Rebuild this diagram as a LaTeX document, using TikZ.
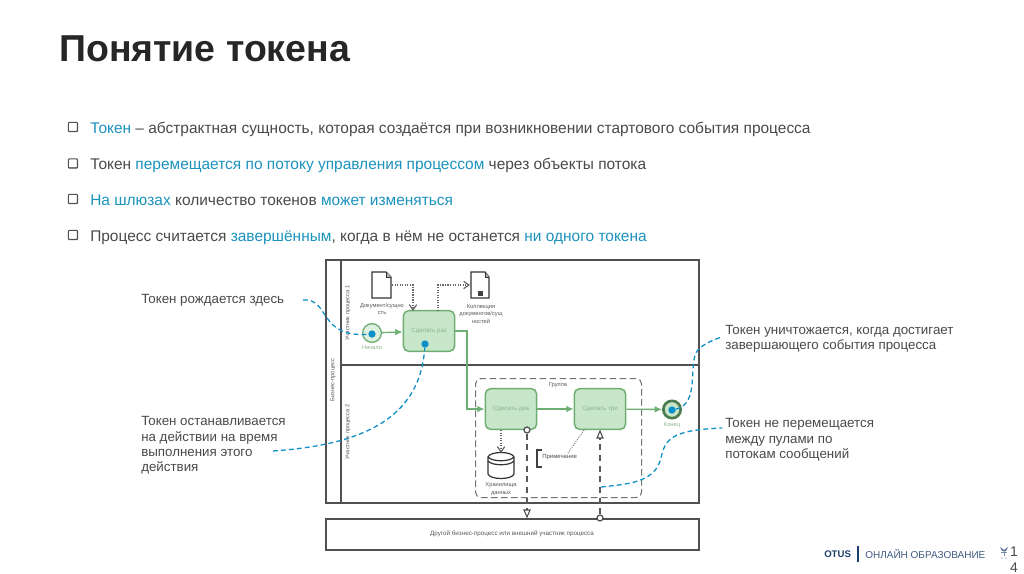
\documentclass[tikz,border=0pt]{standalone}
\usepackage{fontspec}
\setmainfont{Liberation Sans}
\usetikzlibrary{arrows.meta,calc}
\definecolor{txt}{HTML}{4A4A4A}
\definecolor{blu}{HTML}{1C93BE}
\definecolor{tok}{HTML}{0A8FC8}
\definecolor{grn}{HTML}{6FAE72}
\definecolor{grnf}{HTML}{C8E6C9}
\definecolor{grnt}{HTML}{8DB58D}
\definecolor{pool}{HTML}{505050}
\definecolor{navy}{HTML}{1F3F6B}
\newcommand{\bl}[1]{\textcolor{blu}{#1}}
\tikzset{
 x=0.75pt,y=-0.75pt,
 lbl/.style={inner sep=0pt,anchor=west,text=txt,font=\fontsize{10pt}{11.5pt}\selectfont,align=left},
 bullet/.style={inner sep=0pt,anchor=base west,text=txt,font=\fontsize{11.6pt}{13pt}\selectfont},
 chk/.style={draw=pool,line width=0.8pt,minimum size=7pt,inner sep=0pt,rounded corners=0.7pt,path picture={\draw[pool,line width=1.1pt] (path picture bounding box.south west)--(path picture bounding box.south east)--(path picture bounding box.north east);}},
 taskbox/.style={draw=grn,fill=grnf,line width=1.1pt,rounded corners=4pt,minimum width=38.5pt,minimum height=30.5pt,inner sep=0pt,text=grnt,font=\fontsize{4.6pt}{6pt}\selectfont},
 tiny/.style={inner sep=0pt,text=black!65,font=\fontsize{4.3pt}{5.6pt}\selectfont,align=center},
 poolbox/.style={draw=pool,line width=1.15pt,inner sep=0pt},
 flow/.style={draw=grn,line width=1pt,-{Latex[length=5.5pt,width=5pt]}},
 assoc/.style={draw=black!60,densely dotted,line width=0.9pt,-{Straight Barb[length=4pt,width=5.5pt]}},
 msg/.style={draw=black!65,dash pattern=on 4.5pt off 3.5pt,line width=0.9pt},
 tokline/.style={draw=tok,line width=0.95pt,dash pattern=on 3.6pt off 2.4pt},
 tokdot/.style={fill=tok,circle,inner sep=0pt,minimum size=5.5pt},
 doc/.style={draw=black!80,fill=white,line width=0.9pt}
}
\begin{document}
\begin{tikzpicture}
\useasboundingbox (0,0) rectangle (1024,574);
\fill[white] (0,0) rectangle (1024,574);
% title
\node[inner sep=0pt,anchor=base west,text=black!85,font=\bfseries\fontsize{28.1pt}{30pt}\selectfont] (title) at (59,62) {Понятие токена};
% bullets
\node[chk] (c1) at (73,127) {};
\node[chk] (c2) at (73,163.5) {};
\node[chk] (c3) at (73,199) {};
\node[chk] (c4) at (73,235) {};
\node[bullet] (b1) at (90,133.5) {\bl{Токен} – абстрактная сущность, которая создаётся при возникновении стартового события процесса};
\node[bullet] (b2) at (90,169.5) {Токен \bl{перемещается по потоку управления процессом} через объекты потока};
\node[bullet] (b3) at (90,205.5) {\bl{На шлюзах} количество токенов \bl{может изменяться}};
\node[bullet] (b4) at (90,241.5) {Процесс считается \bl{завершённым}, когда в нём не останется \bl{ни одного токена}};
% pools
\node[poolbox,anchor=north west,minimum width=279.75pt,minimum height=182.25pt] (poolA) at (325,259) {};
\node[poolbox,anchor=north west,minimum width=279.75pt,minimum height=23.25pt] (poolB) at (325,518) {};
\draw[pool,line width=1.15pt] (341,259) coordinate (lt) -- (341,502) coordinate (lb);
\draw[pool,line width=1.15pt] (341,365) coordinate (ll) -- (698,365) coordinate (lr);
\node[tiny,rotate=90] (pn) at (333,380) {Бизнес-процесс};
\node[tiny,rotate=90] (l1) at (348,313) {Участник процесса 1};
\node[tiny,rotate=90] (l2) at (348,432) {Участник процесса 2};
\node[tiny,font=\fontsize{4.7pt}{6pt}\selectfont] (pbt) at (512,533.5) {Другой бизнес-процесс или внешний участник процесса};
% group
\node[draw=black!55,dash pattern=on 5pt off 2.5pt,line width=0.8pt,rounded corners=4pt,anchor=north west,minimum width=124.5pt,minimum height=89.25pt,inner sep=0pt] (grp) at (475,378) {};
\node[tiny] (grpt) at (558,385) {Группа};
% documents
\draw[doc] (372,272) coordinate (d1a) -- (386,272) -- (391,277) -- (391,298) -- (372,298) -- cycle;
\draw[black!80,line width=0.6pt,fill=black!30] (386,272) -- (386,277) -- (391,277);
\draw[doc] (471,272) -- (485,272) -- (489,277) -- (489,298) -- (471,298) -- cycle;
\draw[black!80,line width=0.6pt,fill=black!30] (485,272) -- (485,277) -- (489,277);
\fill[black!75] (478,291) rectangle (483,296);
\node[tiny] (d1t) at (382,309) {Документ/сущно\\сть};
\node[tiny] (d2t) at (481,314) {Коллекция\\документов/сущ\\ностей};
% tasks
\node[taskbox] (t1) at (429,331) {Сделать раз};
\node[taskbox] (t2) at (511,409) {Сделать два};
\node[taskbox] (t3) at (600,409) {Сделать три};
% events
\node[circle,draw=grn,fill=grnf!60,line width=1pt,minimum size=14pt,inner sep=0pt] (st) at (372,333) {};
\node[tiny,text=grnt] (stt) at (372,348) {Начало};
\node[circle,draw=grn!70!black,fill=grnf,line width=2pt,minimum size=13pt,inner sep=0pt] (en) at (672,409.5) {};
\node[tiny,text=grnt] (ent) at (672,425) {Конец};
% database
\draw[black!80,fill=white,line width=0.9pt] (488,457) -- (488,474) .. controls (490,480) and (512,480) .. (514,474) -- (514,457) .. controls (512,451) and (490,451) .. (488,457) -- cycle;
\draw[black!80,line width=0.9pt] (488,457) .. controls (492,462) and (510,462) .. (514,457);
\draw[black!80,line width=0.9pt] (488,461) .. controls (492,466) and (510,466) .. (514,461);
\coordinate (db) at (501,453);
\node[tiny] (dbt) at (501,489) {Хранилища\\данных};
% annotation
\node[inner sep=0pt,anchor=west,text=black!70,font=\fontsize{4.5pt}{6pt}\selectfont] (nt) at (542,457) {Примечание};
\draw[black!75,line width=0.9pt] (542,450) -- (537,450) -- (537,467) -- (542,467);
% flows
\draw[flow] (st) -- (t1);
\draw[flow] (t1.east) -- (467,331) -- (467,409) -- (t2.west);
\draw[flow] (t2) -- (t3);
\draw[flow] (t3) -- (en);
% associations
\draw[assoc] (392,285) -- (413,285) -- (413,311);
\draw[assoc] (438,311) -- (438,285) -- (470,285);
\draw[assoc] (501,430) -- (db);
\draw[black!55,densely dotted,line width=0.7pt] (584,430) -- (568,453);
% messages
\node[circle,draw=black!70,fill=white,line width=0.9pt,minimum size=4.5pt,inner sep=0pt] (m1) at (527,430) {};
\node[circle,draw=black!70,fill=white,line width=0.9pt,minimum size=4.5pt,inner sep=0pt] (m2) at (600,518) {};
\draw[msg] (m1) -- (527,510);
\draw[draw=black!70,fill=white,line width=0.8pt] (527,517) -- (524,510) -- (530,510) -- cycle;
\draw[msg] (m2) -- (600,438);
\draw[draw=black!70,fill=white,line width=0.8pt] (600,431) -- (597,438) -- (603,438) -- cycle;
% tokens
\coordinate (a1) at (303,300);
\coordinate (a2) at (273,451);
\coordinate (a3) at (722,337);
\coordinate (a4) at (722,428);
\coordinate (a5) at (601,487);
\node[tokdot] (tk1) at (372,334) {};
\node[tokdot] (tk2) at (425,344) {};
\node[tokdot] (tk3) at (672,410) {};
\draw[tokline] (a1) .. controls (330,298) and (318,338) .. (tk1);
\draw[tokline] (a2) .. controls (360,445) and (420,420) .. (tk2);
\draw[tokline] (tk3) .. controls (700,404) and (688,365) .. (697,351) .. controls (702,345) and (712,340) .. (a3);
\draw[tokline] (a5) .. controls (630,484) and (655,482) .. (661,458) .. controls (665,440) and (670,430) .. (a4);
% callouts
\node[lbl] (c1t) at (141,300) {Токен рождается здесь};
\node[lbl] (c2t) at (141,445.5) {Токен останавливается\\на действии на время\\выполнения этого\\действия};
\node[lbl] (c3t) at (725,339) {Токен уничтожается, когда достигает\\завершающего события процесса};
\node[lbl] (c4t) at (725,440) {Токен не перемещается\\между пулами по\\потокам сообщений};
% footer
\node[inner sep=0pt,anchor=west,text=navy,font=\bfseries\fontsize{7.2pt}{8pt}\selectfont] (f1) at (824,554) {OTUS};
\draw[navy,line width=0.8pt] (858,546) coordinate (fa) -- (858,562) coordinate (fb);
\node[inner sep=0pt,anchor=west,text=navy!85,font=\fontsize{7.5pt}{8pt}\selectfont] (f2) at (865,554) {ОНЛАЙН ОБРАЗОВАНИЕ};
\fill[navy!75] (1000,547) -- (1004,550) -- (1008,547) -- (1006,551) -- (1002,551) -- cycle;
\draw[navy!60,line width=0.5pt] (1001,552) -- (1007,552) (1004,550) -- (1004,556);
\fill[navy!60] (1002,558) circle (0.6) (1006,558) circle (0.6);
\node[inner sep=0pt,text=txt,font=\fontsize{10.5pt}{12pt}\selectfont,align=center] (pg) at (1014,560) {1\\4};
\end{tikzpicture}
\end{document}
